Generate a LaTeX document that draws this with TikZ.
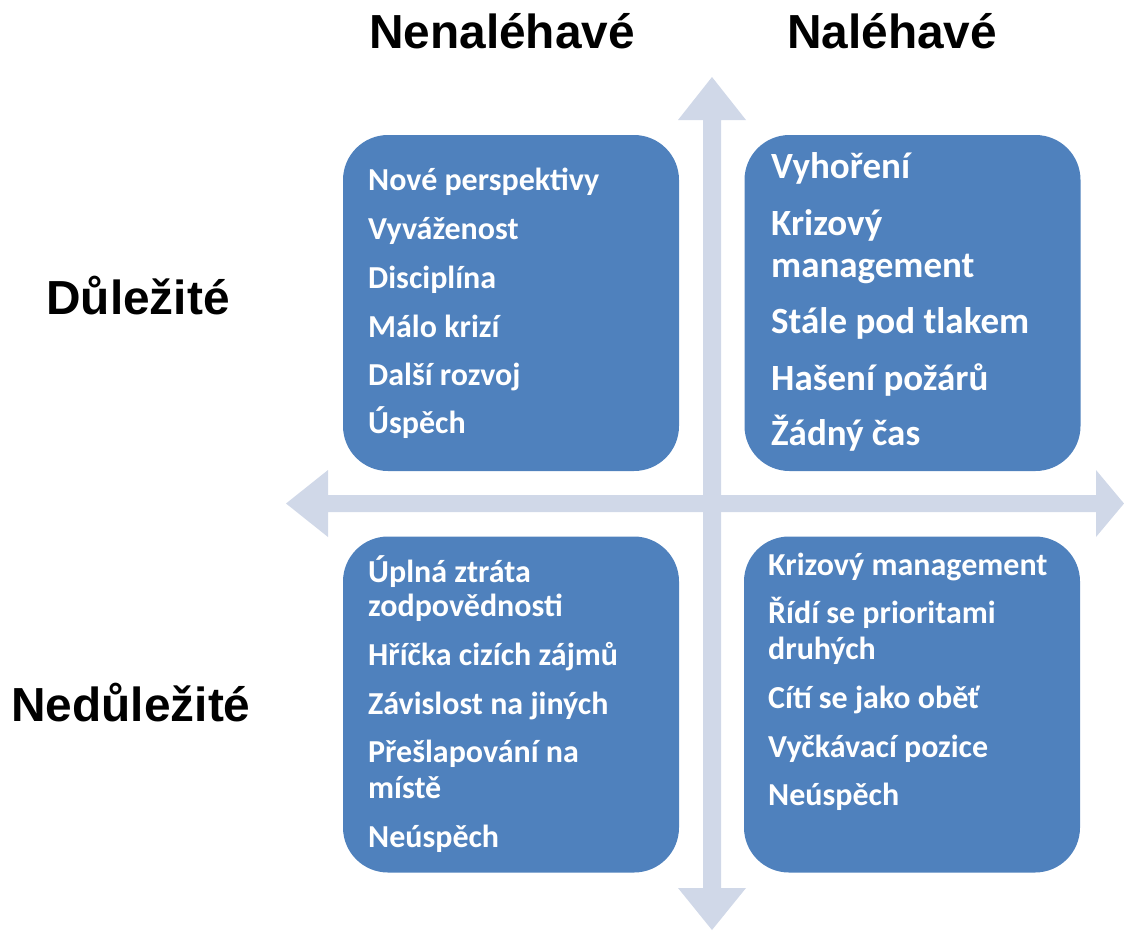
\documentclass[tikz,border=0pt]{standalone}
\usepackage{fontspec}
\setmainfont{Carlito}
\newfontfamily\headfont{Liberation Sans}
\usepackage{xcolor}
\definecolor{quadblue}{HTML}{4F81BD}
\definecolor{axisgrey}{HTML}{D0D8E8}

\begin{document}
\begin{tikzpicture}[x=1pt, y=-1pt,
    quad/.style={fill=quadblue, draw=none, rounded corners=45pt, minimum width=336pt, minimum height=336pt, inner sep=0pt},
    item/.style={anchor=base west, inner sep=0pt, text=white, font=\fontsize{32}{38}\selectfont\bfseries},
    bigitem/.style={item, font=\fontsize{37}{44}\selectfont\bfseries},
    head/.style={anchor=base, inner sep=0pt, font=\headfont\fontsize{47.8}{54}\selectfont\bfseries}]
      \useasboundingbox (0, 0) rectangle (1124, 930);

      % axes
      \fill[axisgrey] (703, 120) -- (678, 120) -- (712, 77) -- (746, 120) -- (721, 120)
        -- (721, 888) -- (746, 888) -- (712, 930) -- (678, 888) -- (703, 888) -- cycle;
      \fill[axisgrey] (328, 495) -- (328, 470) -- (286, 503.5) -- (328, 537) -- (328, 512)
        -- (1096, 512) -- (1096, 537) -- (1124, 503.5) -- (1096, 470) -- (1096, 495) -- cycle;

      \node[head] (nenal) at (502, 48) {Nenaléhavé};
      \node[head] (nal) at (892, 48) {Naléhavé};
      \node[head] (dul) at (138, 314) {Důležité};
      \node[head] (nedul) at (131, 721) {Nedůležité};

      \node[quad] (tl) at (511, 303) {};
      \node[quad] (tr) at (912.5, 303) {};
      \node[quad] (bl) at (511, 704.5) {};
      \node[quad] (br) at (912, 704.5) {};

      \node[item] (tl1) at (368, 190) {Nové perspektivy};
      \node[item] (tl2) at (368, 239) {Vyváženost};
      \node[item] (tl3) at (368, 288) {Disciplína};
      \node[item] (tl4) at (368, 337) {Málo krizí};
      \node[item] (tl5) at (368, 385) {Další rozvoj};
      \node[item] (tl6) at (368, 433) {Úspěch};

      \node[bigitem] (tr1) at (771, 178) {Vyhoření};
      \node[bigitem] (tr2) at (771, 235) {Krizový};
      \node[bigitem] (tr3) at (771, 277) {management};
      \node[bigitem] (tr4) at (771, 333) {Stále pod tlakem};
      \node[bigitem] (tr5) at (771, 390) {Hašení požárů};
      \node[bigitem] (tr6) at (771, 445) {Žádný čas};

      \node[item] (bl1) at (368, 582) {Úplná ztráta};
      \node[item] (bl2) at (368, 616) {zodpovědnosti};
      \node[item] (bl3) at (368, 665) {Hříčka cizích zájmů};
      \node[item] (bl4) at (368, 714) {Závislost na jiných};
      \node[item] (bl5) at (368, 762) {Přešlapování na};
      \node[item] (bl6) at (368, 798) {místě};
      \node[item] (bl7) at (368, 847) {Neúspěch};

      \node[item] (br1) at (768, 575) {Krizový management};
      \node[item] (br2) at (768, 623) {Řídí se prioritami};
      \node[item] (br3) at (768, 659) {druhých};
      \node[item] (br4) at (768, 708) {Cítí se jako oběť};
      \node[item] (br5) at (768, 757) {Vyčkávací pozice};
      \node[item] (br6) at (768, 805) {Neúspěch};
    \end{tikzpicture}
\end{document}
